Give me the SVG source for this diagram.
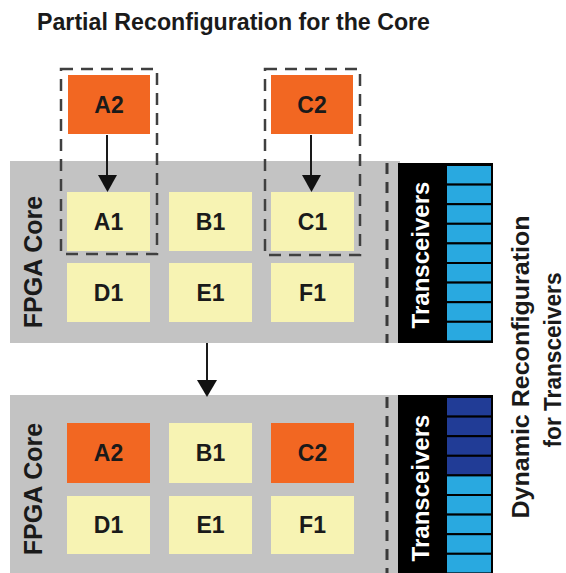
<svg xmlns="http://www.w3.org/2000/svg" width="566" height="573" viewBox="0 0 566 573">
  <style>
    text { font-family: "Liberation Sans", Arial, sans-serif; font-weight: bold; fill: #1a1a1a; }
    .panel { fill: #c3c3c3; }
    .cell { fill: #f7f3b3; }
    .new { fill: #f26722; }
    .lbl { font-size: 23px; text-anchor: middle; }
    .core { font-size: 25px; text-anchor: middle; }
    .trx { font-size: 24px; text-anchor: middle; fill: #ffffff; }
    .side { font-size: 24px; text-anchor: middle; }
    .dash { fill: none; stroke: #404040; stroke-width: 2.5; stroke-dasharray: 12 8; }
    .divider { fill: none; stroke: #3a3a3a; stroke-width: 3; stroke-dasharray: 11 8; }
    .lane { fill: #29a9e0; stroke: #000000; stroke-width: 2; }
    .lane-on { fill: #213c96; stroke: #000000; stroke-width: 2; }
    .wire { stroke: #1a1a1a; stroke-width: 2; fill: none; }
    .tip { fill: #111111; }
  </style>

  <rect width="566" height="573" fill="#ffffff"/>

  <text x="37" y="30" font-size="23" textLength="393" lengthAdjust="spacingAndGlyphs">Partial Reconfiguration for the Core</text>

  <!-- upper FPGA: before reconfiguration -->
  <g id="core-top">
    <rect class="panel" x="10" y="161" width="390" height="182"/>
    <text class="core" transform="translate(42,262) rotate(-90)">FPGA Core</text>
    <path class="divider" d="M387,163 V343"/>
  </g>
  <g id="A1"><rect class="cell" x="67" y="192" width="83" height="59"/><text class="lbl" x="108.5" y="229.5">A1</text></g>
  <g id="B1"><rect class="cell" x="169" y="192" width="83" height="59"/><text class="lbl" x="210.5" y="229.5">B1</text></g>
  <g id="C1"><rect class="cell" x="271" y="192" width="83" height="59"/><text class="lbl" x="312.5" y="229.5">C1</text></g>
  <g id="D1"><rect class="cell" x="67" y="263" width="83" height="59"/><text class="lbl" x="108.5" y="300.5">D1</text></g>
  <g id="E1"><rect class="cell" x="169" y="263" width="83" height="59"/><text class="lbl" x="210.5" y="300.5">E1</text></g>
  <g id="F1"><rect class="cell" x="271" y="263" width="83" height="59"/><text class="lbl" x="312.5" y="300.5">F1</text></g>

  <!-- partial bitstreams -->
  <g id="A2-src"><rect class="new" x="68" y="75" width="82" height="59"/><text class="lbl" x="109" y="112.5">A2</text></g>
  <g id="C2-src"><rect class="new" x="271" y="75" width="82" height="59"/><text class="lbl" x="312" y="112.5">C2</text></g>
  <g id="region-A"><rect class="dash" x="61" y="69" width="96" height="185"/></g>
  <g id="region-C"><rect class="dash" x="265" y="69" width="95" height="186"/></g>

  <g id="trx-top">
    <rect x="398" y="163" width="95" height="180" fill="#000000"/>
    <text class="trx" transform="translate(429,255) rotate(-90)">Transceivers</text>
    <rect class="lane" x="446" y="165" width="46" height="19.6"/>
    <rect class="lane" x="446" y="184.6" width="46" height="19.6"/>
    <rect class="lane" x="446" y="204.2" width="46" height="19.6"/>
    <rect class="lane" x="446" y="223.8" width="46" height="19.6"/>
    <rect class="lane" x="446" y="243.4" width="46" height="19.6"/>
    <rect class="lane" x="446" y="263" width="46" height="19.6"/>
    <rect class="lane" x="446" y="282.6" width="46" height="19.6"/>
    <rect class="lane" x="446" y="302.2" width="46" height="19.6"/>
    <rect class="lane" x="446" y="321.8" width="46" height="19.6"/>
  </g>

  <!-- lower FPGA: after reconfiguration -->
  <g id="core-bottom">
    <rect class="panel" x="10" y="395" width="390" height="178"/>
    <text class="core" transform="translate(42,489) rotate(-90)">FPGA Core</text>
    <path class="divider" d="M387,397 V573"/>
  </g>
  <g id="A2"><rect class="new" x="67" y="423" width="83" height="60"/><text class="lbl" x="108.5" y="461">A2</text></g>
  <g id="B1-b"><rect class="cell" x="169" y="423" width="83" height="60"/><text class="lbl" x="210.5" y="461">B1</text></g>
  <g id="C2"><rect class="new" x="271" y="423" width="83" height="60"/><text class="lbl" x="312.5" y="461">C2</text></g>
  <g id="D1-b"><rect class="cell" x="67" y="496" width="83" height="58"/><text class="lbl" x="108.5" y="533">D1</text></g>
  <g id="E1-b"><rect class="cell" x="169" y="496" width="83" height="58"/><text class="lbl" x="210.5" y="533">E1</text></g>
  <g id="F1-b"><rect class="cell" x="271" y="496" width="83" height="58"/><text class="lbl" x="312.5" y="533">F1</text></g>

  <g id="trx-bottom">
    <rect x="398" y="395" width="95" height="178" fill="#000000"/>
    <text class="trx" transform="translate(429,488) rotate(-90)">Transceivers</text>
    <rect class="lane-on" x="446" y="397" width="46" height="19.6"/>
    <rect class="lane-on" x="446" y="416.6" width="46" height="19.6"/>
    <rect class="lane-on" x="446" y="436.2" width="46" height="19.6"/>
    <rect class="lane-on" x="446" y="455.8" width="46" height="19.6"/>
    <rect class="lane" x="446" y="475.4" width="46" height="19.6"/>
    <rect class="lane" x="446" y="495" width="46" height="19.6"/>
    <rect class="lane" x="446" y="514.6" width="46" height="19.6"/>
    <rect class="lane" x="446" y="534.2" width="46" height="19.6"/>
    <rect class="lane" x="446" y="553.8" width="46" height="19.6"/>
  </g>

  <g id="side-label">
    <text class="side" transform="translate(529,367) rotate(-90)" textLength="303" lengthAdjust="spacingAndGlyphs">Dynamic Reconfiguration</text>
    <text class="side" transform="translate(561,360) rotate(-90)" textLength="175" lengthAdjust="spacingAndGlyphs">for Transceivers</text>
  </g>

  <g id="connectors">
    <path class="wire" d="M107,135 V178"/>
    <path class="tip" d="M98,175 L117,175 L107.5,192 Z"/>
    <path class="wire" d="M311,135 V178"/>
    <path class="tip" d="M302,175 L321,175 L311.5,192 Z"/>
    <path class="wire" d="M207,343 V382"/>
    <path class="tip" d="M197,380 L217,380 L207,397 Z"/>
  </g>
</svg>
